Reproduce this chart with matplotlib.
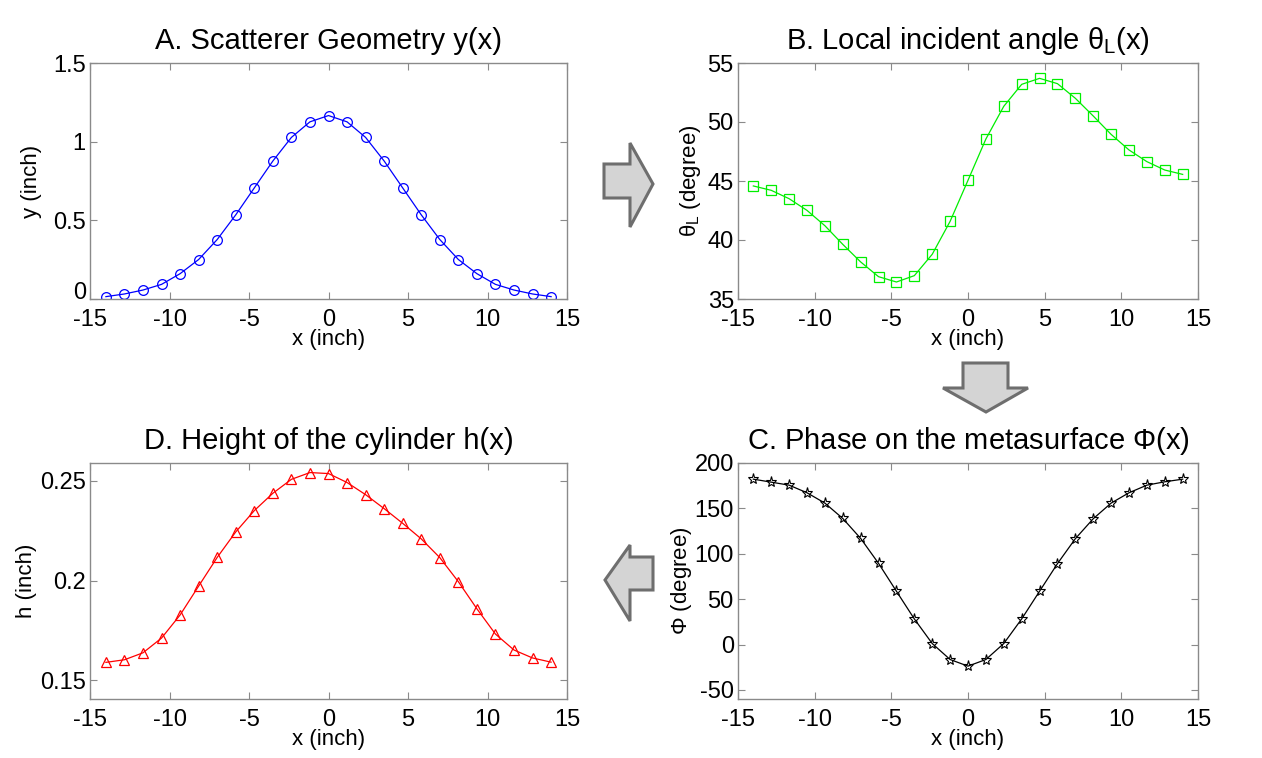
import numpy as np
import matplotlib
matplotlib.use("Agg")
import matplotlib.pyplot as plt
from matplotlib.patches import Polygon

plt.rcParams['font.family'] = ['Liberation Sans', 'DejaVu Sans']
plt.rcParams['mathtext.fontset'] = 'custom'
plt.rcParams['mathtext.rm'] = 'Liberation Sans'
plt.rcParams['mathtext.it'] = 'Liberation Sans'
plt.rcParams['axes.unicode_minus'] = False

# ---- data ----
x = [-14.0, -12.833, -11.667, -10.5, -9.333, -8.167, -7.0, -5.833, -4.667, -3.5,
     -2.333, -1.167, 0.0, 1.167, 2.333, 3.5, 4.667, 5.833, 7.0, 8.167, 9.333,
     10.5, 11.667, 12.833, 14.0]

y_geom = [0.015, 0.032, 0.057, 0.093, 0.161, 0.251, 0.378, 0.535, 0.706, 0.877,
          1.027, 1.126, 1.166, 1.126, 1.027, 0.877, 0.706, 0.535, 0.378, 0.251,
          0.161, 0.093, 0.057, 0.032, 0.015]

theta_L = [44.58, 44.21, 43.50, 42.51, 41.21, 39.63, 38.14, 36.89, 36.44, 36.98,
           38.79, 41.58, 45.06, 48.56, 51.33, 53.19, 53.70, 53.25, 52.01, 50.51,
           48.95, 47.63, 46.64, 45.93, 45.56]

phase = [182.2, 178.9, 175.6, 167.2, 155.8, 138.9, 116.9, 89.4, 58.7, 28.2,
         1.1, -16.5, -23.8, -16.5, 1.1, 28.2, 58.7, 89.1, 116.6, 138.6,
         155.8, 167.2, 175.6, 179.3, 182.2]

height = [0.1589, 0.1602, 0.1637, 0.1711, 0.1827, 0.1972, 0.2116, 0.2244, 0.2351, 0.2438,
          0.2508, 0.2542, 0.2537, 0.2492, 0.2431, 0.2361, 0.2287, 0.2209, 0.2115, 0.1994,
          0.1858, 0.1731, 0.1651, 0.1611, 0.1590]

x_ticks = [-15, -10, -5, 0, 5, 10, 15]

W, H = 1262, 758
fig = plt.figure(figsize=(W / 100, H / 100), dpi=100)

def px_axes(l, t, r, b):
    return fig.add_axes([l / W, 1 - b / H, (r - l) / W, (b - t) / H])

axA = px_axes(90, 63, 567, 299)
axB = px_axes(738, 63, 1198, 299)
axD = px_axes(90, 463, 567, 699)
axC = px_axes(738, 463, 1198, 699)

spine_col = '#8a8a8a'
tick_fs = 17
lab_fs = 16
title_fs = 21

def style(ax, ylim, yticks, yticklabels=None):
    ax.set_xlim(-15, 15)
    ax.set_ylim(*ylim)
    ax.set_xticks(x_ticks)
    ax.set_xticklabels([str(t) for t in x_ticks])
    ax.set_yticks(yticks)
    if yticklabels is not None:
        ax.set_yticklabels(yticklabels)
    for s in ax.spines.values():
        s.set_color(spine_col)
        s.set_linewidth(1.0)
    ax.tick_params(direction='in', length=5, width=0.8, color=spine_col,
                   top=True, right=True, labelsize=tick_fs, labelcolor='black')
    ax.tick_params(axis='x', pad=7)
    ax.tick_params(axis='y', pad=3)
    ax.set_xlabel('x (inch)', fontsize=lab_fs, labelpad=-1)

# A
axA.plot(x, y_geom, color='#0000ff', lw=0.9, marker='o', ms=7, mfc='none', mew=0.9)
style(axA, (0, 1.5), [0, 0.5, 1, 1.5], ['0', '0.5', '1', '1.5'])
axA.get_yticklabels()[0].set_va('baseline')
axA.set_ylabel('y (inch)', fontsize=lab_fs, labelpad=8)
axA.set_title('A. Scatterer Geometry y(x)', fontsize=title_fs, pad=10)

# B
axB.plot(x, theta_L, color='#00ee00', lw=0.9, marker='s', ms=6.5, mfc='none', mew=0.9)
style(axB, (35, 55), [35, 40, 45, 50, 55])
axB.set_ylabel(r'$\theta_{\mathrm{L}}$ (degree)', fontsize=lab_fs, labelpad=3)
axB.set_title(r'B. Local incident angle $\theta_{\mathrm{L}}$(x)', fontsize=title_fs, pad=10)

# C
axC.plot(x, phase, color='black', lw=0.9, marker='*', ms=8, mfc='none', mew=0.8)
style(axC, (-60, 200), [-50, 0, 50, 100, 150, 200])
axC.set_ylabel(r'$\Phi$ (degree)', fontsize=lab_fs, labelpad=0)
axC.set_title(r'C. Phase on the metasurface $\Phi$(x)', fontsize=title_fs, pad=10)

# D
axD.plot(x, height, color='#ff0000', lw=0.9, marker='^', ms=7.5, mfc='none', mew=0.9)
style(axD, (0.1405, 0.259), [0.15, 0.2, 0.25], ['0.15', '0.2', '0.25'])
axD.set_ylabel('h (inch)', fontsize=lab_fs, labelpad=2)
axD.set_title('D. Height of the cylinder h(x)', fontsize=title_fs, pad=10)

# ---- block arrows (figure decoration) ----
def arrow(pts):
    p = Polygon([(px / W, 1 - py / H) for px, py in pts], closed=True,
                transform=fig.transFigure, facecolor='#d4d4d4', edgecolor='#6e6e6e',
                lw=2.2, joinstyle='miter')
    fig.patches.append(p)

# right arrow
arrow([(604, 164), (630, 164), (630, 143), (653, 184), (630, 227), (630, 198), (604, 198)])
# down arrow
arrow([(963, 363), (1008, 363), (1008, 388), (1028, 388), (986, 412), (943, 388), (963, 388)])
# left arrow
arrow([(653, 557), (630, 557), (630, 545), (605, 580), (630, 621), (630, 590), (653, 590)])

fig.savefig('out.png', dpi=100, facecolor='white')
